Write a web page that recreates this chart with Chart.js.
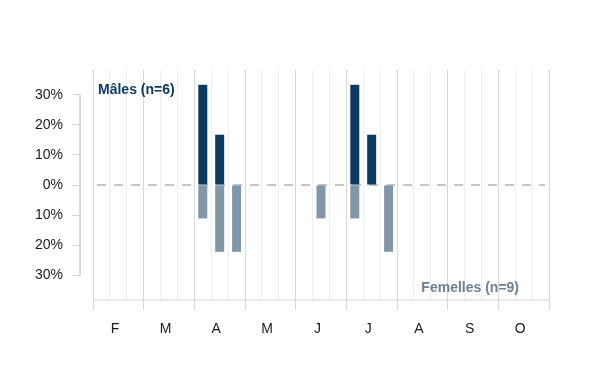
<!DOCTYPE html>
<html><head><meta charset="utf-8">
<script src="https://cdn.jsdelivr.net/npm/chart.js@4/dist/chart.umd.min.js"></script>
<style>html,body{margin:0;padding:0;background:#fff}</style>
</head><body>
<canvas id="c" width="600" height="390"></canvas>
<script>
// ---- data ----
const months = ['F','M','A','M','J','J','A','S','O'];
const maleLabel = 'Mâles (n=6)';
const femaleLabel = 'Femelles (n=9)';
// percent of individuals per ten-day period (index 0 = first decade of February)
const malePct   = [0,0,0, 0,0,0, 33.3,16.7,0,    0,0,0, 0,0,0,    33.3,16.7,0, 0,0,0, 0,0,0, 0,0,0];
const femalePct = [0,0,0, 0,0,0, 11.1,22.2,22.2, 0,0,0, 0,11.1,0, 11.1,0,22.2,  0,0,0, 0,0,0, 0,0,0];
const yTickValues = [-30,-20,-10,0,10,20,30];

// ---- styling / layout ----
const maleColor = '#0c3a62';
const femaleColor = '#7f97a9';
const femaleTextColor = '#6d8195';
const nDec = malePct.length;
const xMin = -0.77, yLim = 38.2;
const font = '"Liberation Sans", Arial, sans-serif';

const toPts = (arr, sign) => arr.map((v,i)=> v ? {x:i+0.5, y:sign*v} : null).filter(Boolean);

const xTicks = [];
for (let i=0;i<=nDec;i++) xTicks.push(i);
months.forEach((m,k)=> xTicks.push(k*3+1.3));
xTicks.sort((a,b)=>a-b);

const textPlugin = {
  id:'txt',
  afterDatasetsDraw(chart){
    const {ctx, chartArea:a} = chart;
    ctx.save();
    ctx.font = 'bold 14px ' + font;
    ctx.textBaseline = 'alphabetic';
    ctx.fillStyle = maleColor; ctx.textAlign = 'left';
    ctx.fillText(maleLabel, chart.scales.x.getPixelForValue(0)+5, a.top+24);
    ctx.fillStyle = femaleTextColor; ctx.textAlign = 'right';
    ctx.fillText(femaleLabel, a.right-30, a.bottom-8);
    ctx.restore();
  }
};

new Chart(document.getElementById('c'), {
  type:'bar',
  data:{ datasets:[
    {label:'m', data:toPts(malePct,1), backgroundColor:maleColor, barThickness:9, grouped:false, inflateAmount:0, borderWidth:0, order:1},
    {label:'f', data:toPts(femalePct,-1), backgroundColor:femaleColor, barThickness:9, grouped:false, inflateAmount:0, borderWidth:0, order:1},
    {type:'line', label:'zero', data:[{x:0.24,y:0},{x:nDec-0.24,y:0}], borderColor:'#8c8c8c', borderWidth:1, borderDash:[9,8], pointRadius:0, order:5},
    {type:'line', label:'xaxis', data:[{x:0,y:-yLim},{x:nDec,y:-yLim}], borderColor:'#d4d4d4', borderWidth:1, pointRadius:0, clip:false, order:6},
    {type:'line', label:'yaxis', data:[{x:xMin,y:30},{x:xMin,y:-30}], borderColor:'#d4d4d4', borderWidth:1, pointRadius:0, clip:false, order:6}
  ]},
  options:{
    responsive:false, animation:false,
    layout:{padding:{top:70, right:51, left:0, bottom:0}},
    plugins:{legend:{display:false}, tooltip:{enabled:false}},
    scales:{
      x:{
        type:'linear', min:xMin, max:nDec, offset:false,
        afterBuildTicks: s => { s.ticks = xTicks.map(v=>({value:v})); },
        afterFit: s => { s.height = 90; },
        border:{display:false},
        grid:{
          offset:false, lineWidth:1, tickLength:10,
          color: c => { const v=c.tick.value; if(!Number.isInteger(v)) return 'rgba(0,0,0,0)'; return v%3===0 ? '#d8d8d8' : '#efefef'; },
          tickColor: c => { const v=c.tick.value; return (Number.isInteger(v) && v%3===0) ? '#d8d8d8' : 'rgba(0,0,0,0)'; }
        },
        ticks:{
          autoSkip:false, maxRotation:0, padding:11, color:'#1a1a1a', font:{family:font, size:14},
          callback: v => Number.isInteger(v) ? '' : months[Math.floor(v/3)]
        }
      },
      y:{
        min:-yLim, max:yLim,
        afterBuildTicks: s => { s.ticks = yTickValues.map(v=>({value:v})); },
        afterFit: s => { s.width = 80; },
        border:{display:false},
        grid:{drawOnChartArea:false, tickLength:8, color:'#d4d4d4'},
        ticks:{padding:9, color:'#1a1a1a', font:{family:font, size:14}, callback: v => Math.abs(v)+'%'}
      }
    }
  },
  plugins:[textPlugin]
});
</script>
</body></html>
